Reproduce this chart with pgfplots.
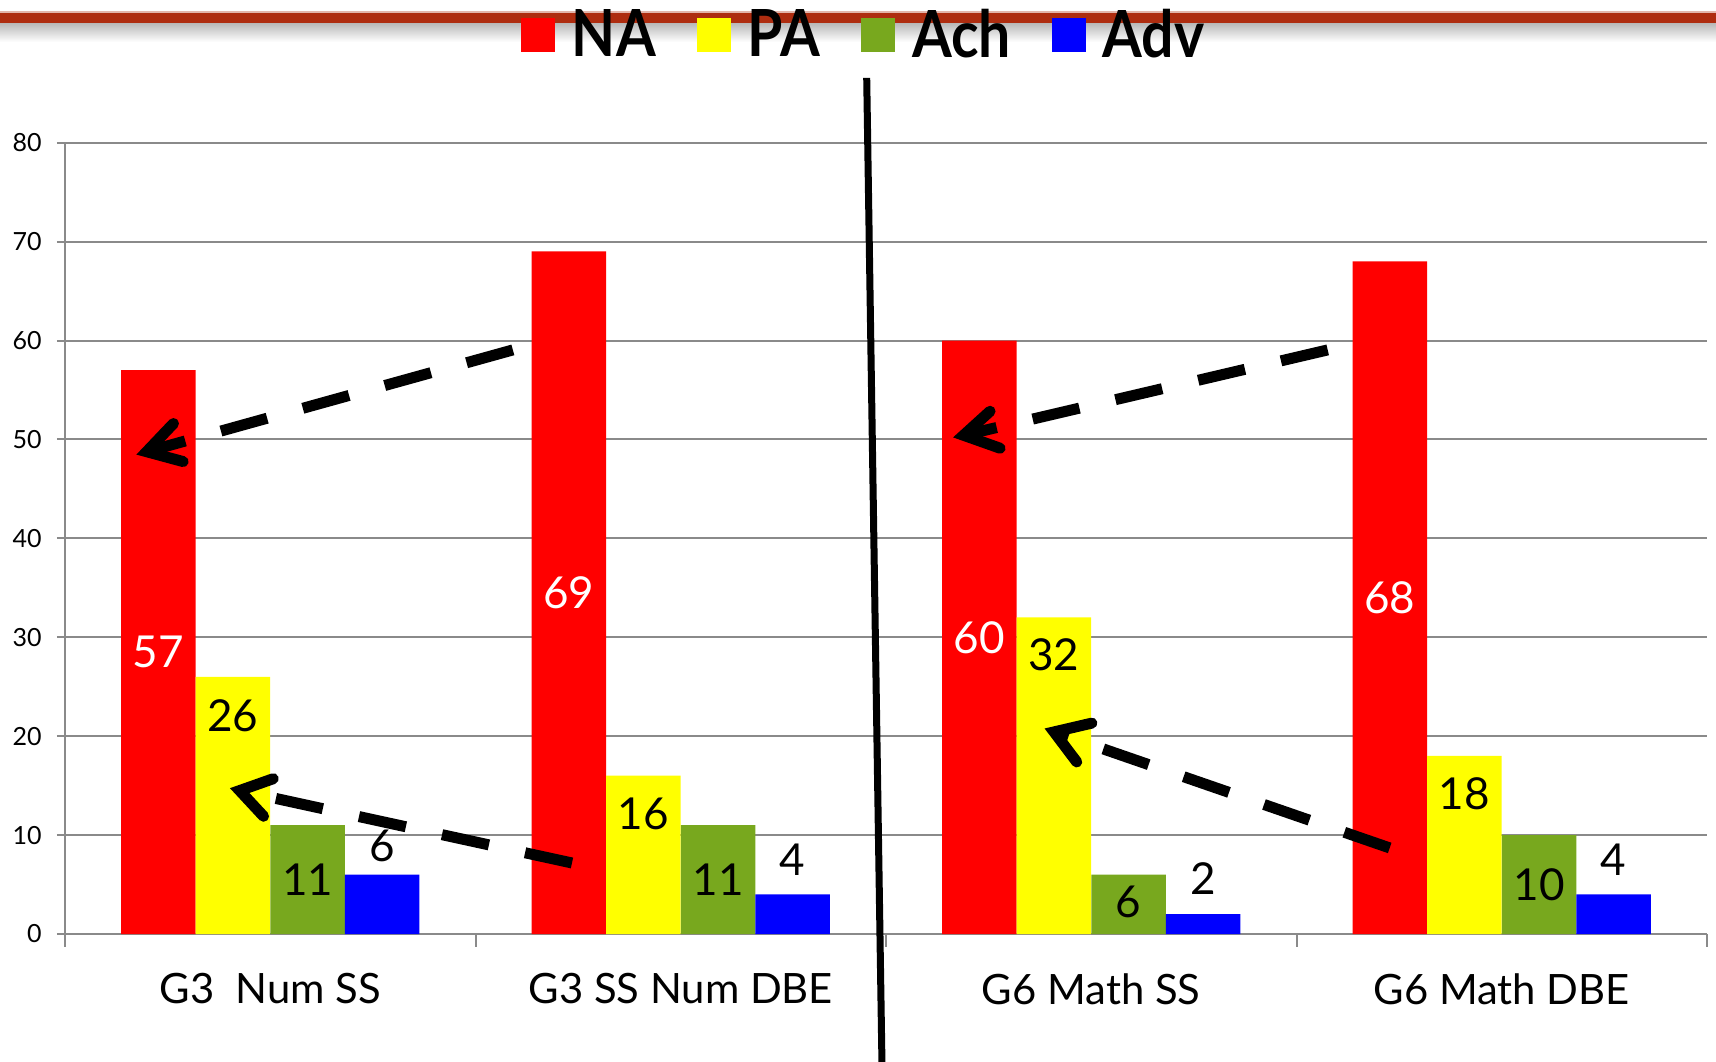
\documentclass[border=0pt]{standalone}
\usepackage{pgfplots}
\pgfplotsset{compat=1.18}
\usepackage{fontspec}
\setmainfont{Lato}
\newfontfamily\legfont[FakeStretch=0.88]{Lato}
\definecolor{cNA}{RGB}{255,0,0}
\definecolor{cPA}{RGB}{255,255,0}
\definecolor{cAch}{RGB}{120,168,30}
\definecolor{cAdv}{RGB}{0,0,255}
\definecolor{topred}{RGB}{174,45,16}
\definecolor{gridgray}{RGB}{138,138,138}
\newcommand{\lblfont}{\fontsize{22bp}{26bp}\selectfont}
\pgfplotsset{
  mybar/.style={ybar, bar width=0.1817, bar shift=#1, draw=none,
    legend image code/.code={\fill[##1] (0bp,-8.5bp) rectangle (17bp,8.5bp);}},
  lbl/.style={draw=none, mark=none, forget plot, nodes near coords,
    point meta=explicit symbolic,
    every node near coord/.append style={anchor=center, inner sep=0pt, font=\lblfont, text=#1}},
}
\begin{document}
\begin{tikzpicture}
\useasboundingbox (0,0) rectangle (858bp,531bp);
\fill[white] (0,0) rectangle (858bp,531bp);
\shade[top color=black!30, bottom color=white] (0bp,510bp) rectangle (858bp,520.2bp);
\fill[topred] (0bp,519.5bp) rectangle (858bp,524.5bp);
\fill[topred!35] (0bp,524.5bp) rectangle (858bp,525.3bp);
\begin{axis}[
  at={(32.5bp,64bp)}, anchor=south west,
  scale only axis, width=821bp, height=395.65bp,
  xmin=-0.5, xmax=3.5, ymin=0, ymax=80,
  clip=false,
  axis x line*=bottom, axis y line*=left,
  axis line style={gridgray, line width=1bp},
  ytick={0,10,...,80},
  ymajorgrids, grid style={gridgray, line width=1bp},
  tick align=outside, major tick length=4bp,
  tick style={gridgray, line width=1bp},
  xtick={0,1,2,3},
  xticklabels={G3~~Num SS, G3 SS Num DBE, G6 Math SS, G6 Math DBE},
  xtick style={draw=none},
  extra x ticks={-0.5,0.5,1.5,2.5,3.5},
  extra x tick labels={},
  extra x tick style={grid=none, major tick length=6.5bp, xtick style={draw=gridgray}},
  /pgf/number format/assume math mode=true,
  yticklabel style={font=\fontsize{12.5bp}{14bp}\selectfont, inner sep=0pt, anchor=east, xshift=-7.5bp},
  xticklabel style={font=\fontsize{20.9bp}{24bp}\selectfont, inner sep=0pt, anchor=north, yshift=-15.5bp},
  legend columns=4,
  legend cell align=left,
  legend style={at={(0.2777,1.1365)}, anchor=west, draw=none, fill=none,
    inner sep=0pt, outer sep=0pt,
    font=\legfont\bfseries\fontsize{32.5bp}{36bp}\selectfont,
    nodes={inner sep=0pt, outer sep=0pt},
    /tikz/every odd column/.append style={column sep=8.5bp},
    /tikz/every even column/.append style={column sep=20.5bp}},
]
\addplot[mybar=-0.2726, fill=cNA] coordinates {(0,57) (1,69) (2,60) (3,68)};
\addlegendentry{NA}
\addplot[mybar=-0.0909, fill=cPA] coordinates {(0,26) (1,16) (2,32) (3,18)};
\addlegendentry{PA}
\addplot[mybar=0.0909, fill=cAch] coordinates {(0,11) (1,11) (2,6) (3,10)};
\addlegendentry{Ach}
\addplot[mybar=0.2726, fill=cAdv] coordinates {(0,6) (1,4) (2,2) (3,4)};
\addlegendentry{Adv}

\addplot[lbl=white] coordinates {(-0.2726,28.5) [57] (0.7274,34.5) [69] (1.7274,30) [60] (2.7274,34) [68]};
\addplot[lbl=black] coordinates {(-0.0909,22.1) [26] (0.9091,12.1) [16] (1.9091,28.2) [32] (2.9091,14.2) [18]};
\addplot[lbl=black] coordinates {(0.0909,5.5) [11] (1.0909,5.5) [11] (2.0909,3.2) [6] (3.0909,5) [10]};
\addplot[lbl=black] coordinates {(0.2726,8.9) [6] (1.2726,7.5) [4] (2.2726,5.6) [2] (3.2726,7.5) [4]};

% divider
\draw[black, line width=3.5bp] (axis cs:1.453,86.55) -- (axis cs:1.4905,-14);
% dashed arrows
\begin{scope}[black, line width=5.5bp]
\draw[dash pattern=on 24bp off 18.5bp] (axis cs:0.591,59.05) -- (axis cs:-0.301,48.76);
\draw[line cap=round, line join=miter] (axis cs:-0.2357,51.61) -- (axis cs:-0.301,48.76) -- (axis cs:-0.2121,47.76);
\draw[dash pattern=on 24bp off 18.5bp] (axis cs:0.735,7.18) -- (axis cs:-0.0745,14.50);
\draw[line cap=round, line join=miter] (axis cs:0.0073,15.70) -- (axis cs:-0.0745,14.50) -- (axis cs:-0.0163,11.90);
\draw[dash pattern=on 24bp off 18.5bp] (axis cs:2.576,59.05) -- (axis cs:1.689,50.42);
\draw[line cap=round, line join=miter] (axis cs:1.7535,52.85) -- (axis cs:1.689,50.42) -- (axis cs:1.778,49.11);
\draw[dash pattern=on 24bp off 18.5bp] (axis cs:2.727,8.70) -- (axis cs:1.9094,20.43);
\draw[line cap=round, line join=miter] (axis cs:2.0015,21.32) -- (axis cs:1.9094,20.43) -- (axis cs:1.9647,17.39);
\end{scope}
\end{axis}
\end{tikzpicture}
\end{document}
